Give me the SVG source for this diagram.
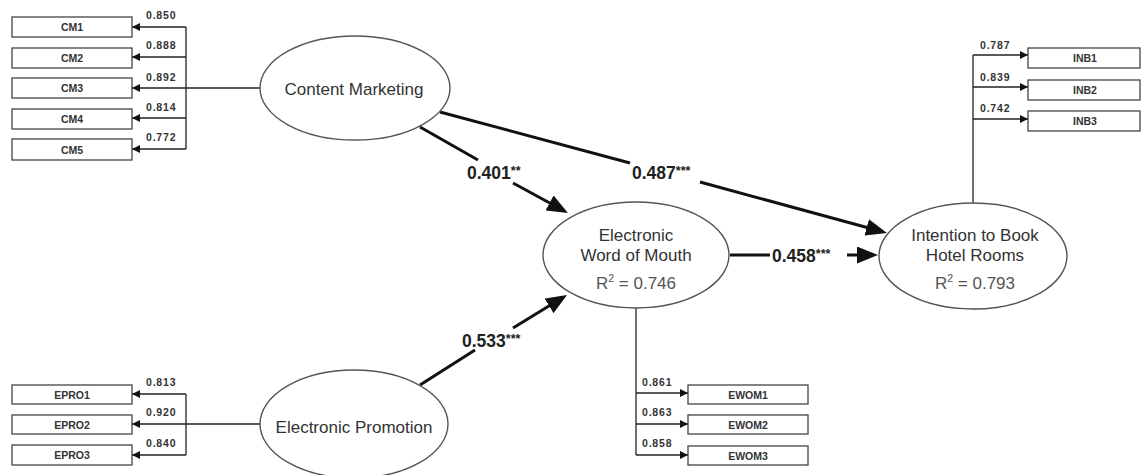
<svg xmlns="http://www.w3.org/2000/svg" width="1142" height="475" viewBox="0 0 1142 475">
<style>
.bg{fill:#fff}
.box{fill:#fff;stroke:#444;stroke-width:1.3}
.ell{fill:#fff;stroke:#555;stroke-width:1.4}
.thin{fill:none;stroke:#222;stroke-width:1.3}
.thick{fill:none;stroke:#111;stroke-width:3}
.btxt{font-family:"Liberation Sans",Arial,sans-serif;font-weight:bold;font-size:10.5px;fill:#333;text-anchor:middle}
.ltxt{font-family:"Liberation Sans",Arial,sans-serif;font-weight:bold;font-size:10.5px;fill:#333;letter-spacing:0.8px}
.etxt{font-family:"Liberation Sans",Arial,sans-serif;font-size:17px;fill:#333;text-anchor:middle}
.rtxt{font-family:"Liberation Sans",Arial,sans-serif;font-size:17px;fill:#555;text-anchor:middle}
.ptxt{font-family:"Liberation Sans",Arial,sans-serif;font-weight:bold;font-size:17.5px;fill:#222}
</style>
<defs>
<marker id="sa" markerUnits="userSpaceOnUse" markerWidth="8" markerHeight="8" refX="8" refY="4" orient="auto"><path d="M0,0 L8,4 L0,8 z" fill="#111"/></marker>
<marker id="la" markerUnits="userSpaceOnUse" markerWidth="21" markerHeight="17" refX="6" refY="8.5" orient="auto"><path d="M0,0 L21,8.5 L0,17 z" fill="#111"/></marker>
</defs>
<rect class="bg" x="0" y="0" width="1142" height="475"/>

<g id="connectors">
<path class="thin" d="M186,27 V149"/>
<path class="thin" d="M186,27 H132" marker-end="url(#sa)"/>
<path class="thin" d="M186,57 H132" marker-end="url(#sa)"/>
<path class="thin" d="M260,88 H132" marker-end="url(#sa)"/>
<path class="thin" d="M186,118 H132" marker-end="url(#sa)"/>
<path class="thin" d="M186,149 H132" marker-end="url(#sa)"/>
<path class="thin" d="M186,394 V455"/>
<path class="thin" d="M186,394 H132" marker-end="url(#sa)"/>
<path class="thin" d="M260,424 H132" marker-end="url(#sa)"/>
<path class="thin" d="M186,455 H132" marker-end="url(#sa)"/>
<path class="thin" d="M636,308 V455"/>
<path class="thin" d="M636,393 H688" marker-end="url(#sa)"/>
<path class="thin" d="M636,424 H688" marker-end="url(#sa)"/>
<path class="thin" d="M636,455 H688" marker-end="url(#sa)"/>
<path class="thin" d="M973,203 V55"/>
<path class="thin" d="M973,55 H1028" marker-end="url(#sa)"/>
<path class="thin" d="M973,87 H1028" marker-end="url(#sa)"/>
<path class="thin" d="M973,119 H1028" marker-end="url(#sa)"/>
<path class="thick" d="M420,127 L478,160"/>
<path class="thick" d="M513,183 L554.8,205.8" marker-end="url(#la)"/>
<path class="thick" d="M440,112 L630,163"/>
<path class="thick" d="M700,182 L872.5,229" marker-end="url(#la)"/>
<path class="thick" d="M730,255 H770"/>
<path class="thick" d="M847,255 H863" marker-end="url(#la)"/>
<path class="thick" d="M420,385 L475,350"/>
<path class="thick" d="M513,328 L554.2,302.8" marker-end="url(#la)"/>
<text class="ptxt" x="467" y="179">0.401<tspan font-size="12.5" dy="-4">**</tspan></text>
<text class="ptxt" x="632" y="179">0.487<tspan font-size="12.5" dy="-4">***</tspan></text>
<text class="ptxt" x="772" y="262">0.458<tspan font-size="12.5" dy="-4">***</tspan></text>
<text class="ptxt" x="462" y="347">0.533<tspan font-size="12.5" dy="-4">***</tspan></text>
<text class="ltxt" x="146" y="19">0.850</text>
<text class="ltxt" x="146" y="49">0.888</text>
<text class="ltxt" x="146" y="81">0.892</text>
<text class="ltxt" x="146" y="111">0.814</text>
<text class="ltxt" x="146" y="141">0.772</text>
<text class="ltxt" x="146" y="386">0.813</text>
<text class="ltxt" x="146" y="416">0.920</text>
<text class="ltxt" x="146" y="447">0.840</text>
<text class="ltxt" x="642" y="386">0.861</text>
<text class="ltxt" x="642" y="416">0.863</text>
<text class="ltxt" x="642" y="447">0.858</text>
<text class="ltxt" x="980" y="49">0.787</text>
<text class="ltxt" x="980" y="81">0.839</text>
<text class="ltxt" x="980" y="112">0.742</text>
</g>

<g id="CM">
<ellipse class="ell" cx="355" cy="88" rx="95" ry="52"/>
<text class="etxt" x="354" y="95">Content Marketing</text>
</g>
<g id="EWOM">
<ellipse class="ell" cx="636" cy="255" rx="93" ry="53"/>
<text class="etxt" x="636" y="241">Electronic</text>
<text class="etxt" x="636" y="261">Word of Mouth</text>
<text class="rtxt" x="636" y="289">R<tspan font-size="10.5" dy="-7">2</tspan><tspan dy="7"> = 0.746</tspan></text>
</g>
<g id="INB">
<ellipse class="ell" cx="973" cy="256" rx="94" ry="53"/>
<text class="etxt" x="975" y="241">Intention to Book</text>
<text class="etxt" x="975" y="261">Hotel Rooms</text>
<text class="rtxt" x="975" y="289">R<tspan font-size="10.5" dy="-7">2</tspan><tspan dy="7"> = 0.793</tspan></text>
</g>
<g id="EPRO">
<ellipse class="ell" cx="354" cy="424" rx="94" ry="54"/>
<text class="etxt" x="354" y="433">Electronic Promotion</text>
</g>

<g id="CM1"><rect class="box" x="12" y="17" width="120" height="20"/><text class="btxt" x="72" y="31">CM1</text></g>
<g id="CM2"><rect class="box" x="12" y="48" width="120" height="20"/><text class="btxt" x="72" y="62">CM2</text></g>
<g id="CM3"><rect class="box" x="12" y="78" width="120" height="20"/><text class="btxt" x="72" y="92">CM3</text></g>
<g id="CM4"><rect class="box" x="12" y="109" width="120" height="20"/><text class="btxt" x="72" y="123">CM4</text></g>
<g id="CM5"><rect class="box" x="12" y="139" width="120" height="21"/><text class="btxt" x="72" y="153.5">CM5</text></g>
<g id="EPRO1"><rect class="box" x="12" y="385" width="120" height="19"/><text class="btxt" x="72" y="398.5">EPRO1</text></g>
<g id="EPRO2"><rect class="box" x="12" y="415" width="120" height="19"/><text class="btxt" x="72" y="428.5">EPRO2</text></g>
<g id="EPRO3"><rect class="box" x="12" y="445" width="120" height="20"/><text class="btxt" x="72" y="459">EPRO3</text></g>
<g id="EWOM1"><rect class="box" x="688" y="385" width="120" height="19"/><text class="btxt" x="748" y="398.5">EWOM1</text></g>
<g id="EWOM2"><rect class="box" x="688" y="415" width="120" height="19"/><text class="btxt" x="748" y="428.5">EWOM2</text></g>
<g id="EWOM3"><rect class="box" x="688" y="446" width="120" height="19"/><text class="btxt" x="748" y="459.5">EWOM3</text></g>
<g id="INB1"><rect class="box" x="1028" y="48" width="112" height="20"/><text class="btxt" x="1085" y="62">INB1</text></g>
<g id="INB2"><rect class="box" x="1028" y="80" width="112" height="20"/><text class="btxt" x="1085" y="94">INB2</text></g>
<g id="INB3"><rect class="box" x="1028" y="111" width="112" height="20"/><text class="btxt" x="1085" y="125">INB3</text></g>
</svg>
